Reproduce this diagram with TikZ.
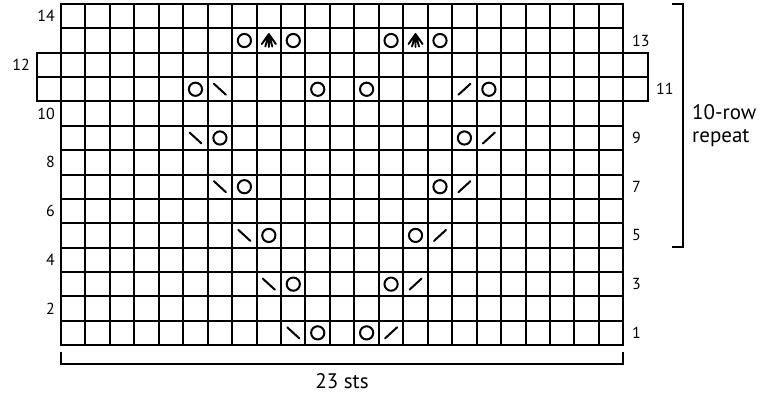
\documentclass[tikz,border=0pt]{standalone}
\usepackage{fontspec}
\setmainfont{PT Sans}
\tikzset{
  gridline/.style={line width=2.2pt,line cap=rect},
  symline/.style={line width=2pt,line cap=round},
  yo/.pic={\draw[symline] (0,0) circle (6.6);},
  kbs/.pic={\draw[symline] (-6,-5.5) -- (6,5.5);},
  kfs/.pic={\draw[symline] (-6,5.5) -- (6,-5.5);},
  cdd/.pic={\draw[line width=1.9pt,line cap=round,line join=round]
             (0,6.5) -- (0,-6.5)
             (-7,3.5) -- (0,-6.5) -- (7,3.5)
             (-3.5,6) -- (0,-6.5) -- (3.5,6);},
  lab/.style={font=\fontsize{16}{18}\selectfont,inner sep=0pt},
  big/.style={font=\fontsize{21}{24}\selectfont,inner sep=0pt},
  bracket/.style={line width=2.2pt,line cap=rect}
}
\begin{document}
\begin{tikzpicture}[x=1pt,y=-1pt]
\useasboundingbox (0,0) rectangle (765,398);
% main grid
\foreach \i in {0,...,23}
  \draw[gridline] ({round(61+24.45*\i)},4) -- ({round(61+24.45*\i)},345);
\foreach \j in {0,...,14}
  \draw[gridline] (61,{round(4+24.36*\j)}) -- (623,{round(4+24.36*\j)});
% extended rows 11 and 12
\foreach \j in {2,3,4}
  \draw[gridline] (37,{round(4+24.36*\j)}) -- (648,{round(4+24.36*\j)});
\draw[gridline] (37,53) -- (37,101);
\draw[gridline] (648,53) -- (648,101);
% symbols
\foreach \c/\r/\s in {8/13/yo,9/13/cdd,10/13/yo,14/13/yo,15/13/cdd,16/13/yo,
  6/11/yo,7/11/kbs,11/11/yo,13/11/yo,17/11/kfs,18/11/yo,
  6/9/kbs,7/9/yo,17/9/yo,18/9/kfs,
  7/7/kbs,8/7/yo,16/7/yo,17/7/kfs,
  8/5/kbs,9/5/yo,15/5/yo,16/5/kfs,
  9/3/kbs,10/3/yo,14/3/yo,15/3/kfs,
  10/1/kbs,11/1/yo,13/1/yo,14/1/kfs}
  \pic at ({61+24.45*(\c-0.5)},{4+24.36*(14.5-\r)}) {\s};
% row numbers
\foreach \r in {14,10,8,6,4,2}
  \node[lab,anchor=east] (l\r) at (55,{4+24.36*(14.5-\r)}) {\r};
\node[lab,anchor=east] (l12) at (30,{4+24.36*(14.5-12)}) {12};
\foreach \r in {13,9,7,5,3,1}
  \node[lab,anchor=west] (r\r) at (632,{4+24.36*(14.5-\r)}) {\r};
\node[lab,anchor=west] (r11) at (656,{4+24.36*(14.5-11)}) {11};
% repeat bracket
\coordinate (bt) at (683,4);
\coordinate (bb) at (683,247);
\draw[bracket] (673,4) -- (bt) -- (bb) -- (673,247);
\node[big,anchor=base west] (rep1) at (692,120) {10-row};
\node[big,anchor=base west] (rep2) at (692,143) {repeat};
% width bracket
\coordinate (wl) at (61,364);
\coordinate (wr) at (623,364);
\draw[bracket] (61,353) -- (wl) -- (wr) -- (623,353);
\node[big,anchor=base] (sts) at (342,388) {23 sts};
\end{tikzpicture}
\end{document}
